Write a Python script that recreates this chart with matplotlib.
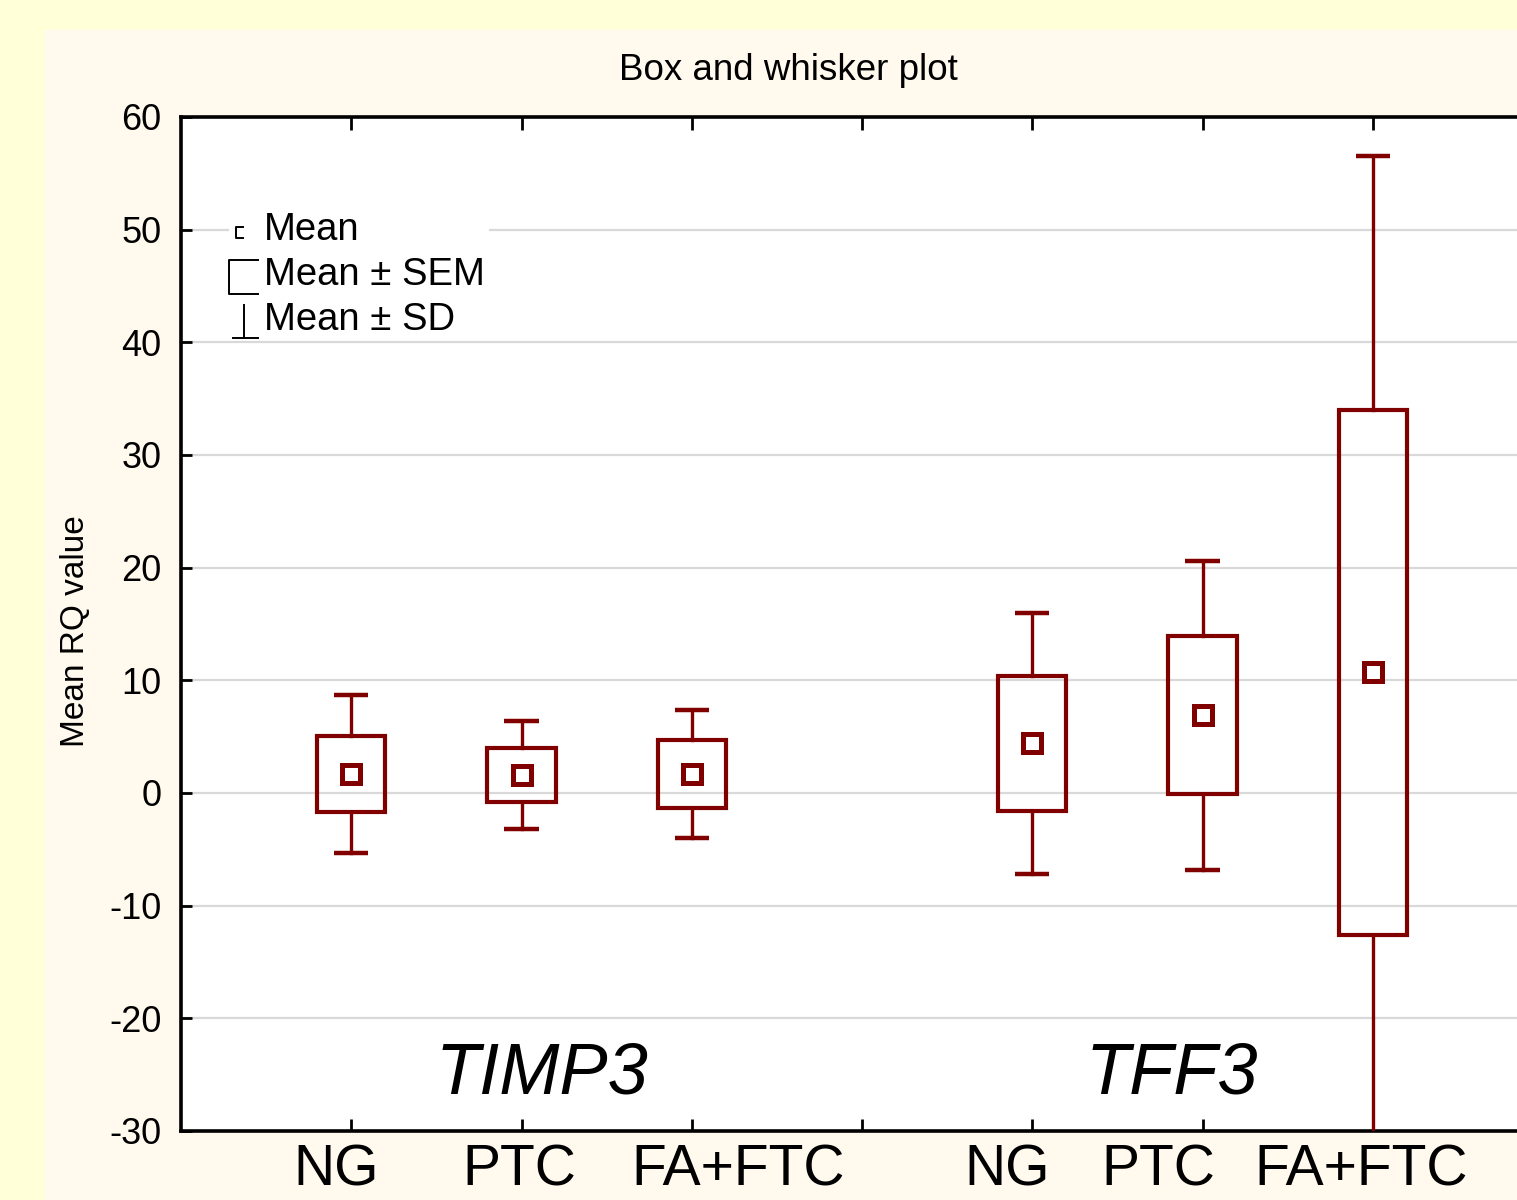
import numpy as np
import matplotlib.pyplot as plt
from matplotlib.patches import Rectangle
import matplotlib.transforms as mtransforms

plt.rcParams['font.family'] = ['Liberation Sans', 'DejaVu Sans']
plt.rcParams['axes.unicode_minus'] = False

# ------------------------------------------------
# data (Mean RQ value)
# ------------------------------------------------
groups = ["NG", "PTC", "FA+FTC", "NG", "PTC", "FA+FTC"]
genes = ["TIMP3", "TFF3"]
positions = [1, 2, 3, 5, 6, 7]

mean = np.array([1.7, 1.6, 1.7, 4.4, 6.9, 10.7])
sem = np.array([3.4, 2.4, 3.0, 6.0, 7.0, 23.3])
sd = np.array([7.0, 4.8, 5.7, 11.6, 13.7, 45.8])

yticks = [-30, -20, -10, 0, 10, 20, 30, 40, 50, 60]

# ------------------------------------------------
# figure
# ------------------------------------------------
red = "#800000"
fig = plt.figure(figsize=(15.17, 12), dpi=100, facecolor="#FFFFD8")
fig.patches.append(Rectangle((45 / 1517, 0), 1, 1 - 30 / 1200,
                             transform=fig.transFigure, color="#FFF9EE",
                             zorder=-10))

ax = fig.add_axes([181 / 1517, 69 / 1200, 1362 / 1517, 1014 / 1200])
ax.set_xlim(0, 8)
ax.set_ylim(-30, 60)
ax.set_facecolor("white")

ax.set_yticks(yticks)
ax.set_yticklabels([str(t) for t in yticks])
ax.set_xticks(range(1, 8))
ax.set_xticklabels([])
ax.tick_params(axis="both", direction="in", length=8, width=2,
               labelsize=26, top=True, pad=14)
ax.tick_params(axis="x", length=9)
for s in ax.spines.values():
    s.set_linewidth(2.6)
ax.yaxis.grid(True, color="#D9D9D9", lw=1.6)
ax.set_axisbelow(True)

# boxes (mean +- SEM), whiskers (mean +- SD), mean marker
box_w = 0.4
cap_w = 0.2
for x, m, se, s in zip(positions, mean, sem, sd):
    ax.add_patch(Rectangle((x - box_w / 2, m - se), box_w, 2 * se,
                           facecolor="none", edgecolor=red, lw=3.0, zorder=3))
    ax.plot([x, x], [m + se, m + s], color=red, lw=2.4, zorder=3)
    ax.plot([x, x], [m - se, m - s], color=red, lw=2.4, zorder=3)
    ax.plot([x - cap_w / 2, x + cap_w / 2], [m + s] * 2, color=red, lw=3.2,
            zorder=3, solid_capstyle="butt")
    ax.plot([x - cap_w / 2, x + cap_w / 2], [m - s] * 2, color=red, lw=3.2,
            zorder=3, solid_capstyle="butt")
    ax.plot(x, m, marker="s", ms=13.5, mfc="white", mec=red, mew=3.6, zorder=4)

# legend drawn by hand
ax.add_patch(Rectangle((0.28, 40.6), 1.53, 11.0, facecolor="white",
                       edgecolor="none", zorder=1))
k = dict(color="black", lw=1.4, zorder=5)
ax.plot([0.365, 0.324, 0.324, 0.365], [50.2, 50.2, 49.3, 49.3], **k)
ax.plot([0.453, 0.282, 0.282, 0.453], [47.3, 47.3, 44.3, 44.3], **k)
ax.plot([0.371, 0.371], [43.3, 40.4], **k)
ax.plot([0.306, 0.453], [40.4, 40.4], **k)
for yy, txt in zip([50.0, 46.0, 42.0], ["Mean", "Mean \u00b1 SEM", "Mean \u00b1 SD"]):
    ax.text(0.488, yy, txt, fontsize=27.5, va="center", ha="left", zorder=5)

# gene names
ax.text(2.12, -25.0, genes[0], fontsize=52, style="italic", ha="center",
        va="center")
ax.text(5.82, -25.0, genes[1], fontsize=52, style="italic", ha="center",
        va="center")

# group labels under the axis
label_x = [0.91, 1.99, 3.27, 4.85, 5.74, 6.93]
trans = mtransforms.blended_transform_factory(ax.transData, fig.transFigure)
for lx, g in zip(label_x, groups):
    ax.text(lx, 1 - 1186 / 1200, g, fontsize=41, ha="center", va="baseline",
            transform=trans, clip_on=False)

ax.set_ylabel("Mean RQ value", fontsize=24)
ax.yaxis.set_label_coords(-0.066, 0.493)

fig.text(788 / 1517, 1 - 70 / 1200, "Box and whisker plot", fontsize=26.5,
         ha="center", va="center")

fig.savefig("out.png", dpi=100, facecolor=fig.get_facecolor())
